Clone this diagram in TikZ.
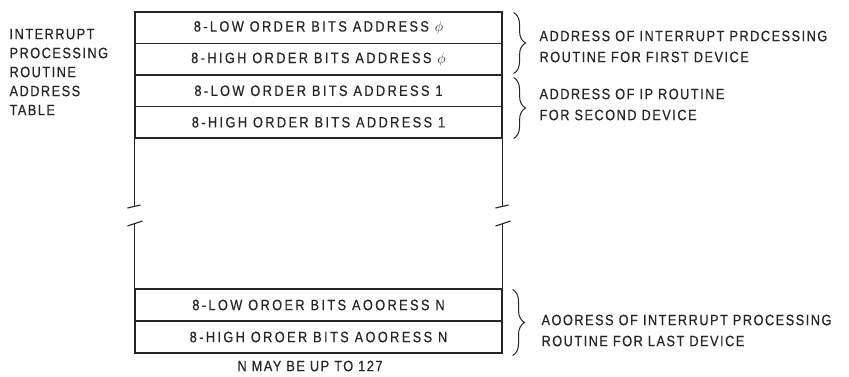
\documentclass[tikz,border=0pt]{standalone}
\usepackage{fontspec}
\setmainfont{Liberation Sans}
\newfontfamily\rowfont[LetterSpace=16,FakeStretch=0.85,FakeBold=0.5]{Liberation Sans}
\newfontfamily\lblfont[LetterSpace=10,FakeStretch=0.85,FakeBold=0.5]{Liberation Sans}
\usetikzlibrary{decorations.pathreplacing,calc}
\definecolor{ink}{HTML}{262626}
\begin{document}
\begin{tikzpicture}[x=1pt,y=-1pt,line width=1.1pt,draw=ink,text=ink,
  cell/.style={draw, minimum width=367pt, minimum height=31.5pt, inner sep=0pt,
    font=\rowfont\fontsize{15}{17}\selectfont},
  lbl/.style={inner sep=0pt, align=left, font=\lblfont\fontsize{15}{21}\selectfont},
  brc/.style={decorate, decoration={brace, amplitude=12pt}, line width=1pt}]
\useasboundingbox (0,0) rectangle (849,376);
% upper rows
\node[cell] (r1) at (318.5,27.75) {8-LOW ORDER BITS ADDRESS $\phi$};
\node[cell] (r2) at (318.5,59.25) {8-HIGH ORDER BITS ADDRESS $\phi$};
\node[cell] (r3) at (318.5,90.75) {8-LOW ORDER BITS ADDRESS 1};
\node[cell] (r4) at (318.5,122.25) {8-HIGH ORDER BITS ADDRESS 1};
% lower rows
\node[cell, minimum height=32pt] (rn1) at (318.5,305) {8-LOW OROER BITS AOORESS N};
\node[cell, minimum height=32pt] (rn2) at (318.5,337) {8-HIGH OROER BITS AOORESS N};
% open sides with break marks
\coordinate (ua) at (0,206);
\coordinate (lb) at (0,224);
\draw (r4.south west) -- (r4.south west |- ua) coordinate (tl);
\draw (r4.south east) -- (r4.south east |- ua) coordinate (tr);
\draw (rn1.north west) -- (rn1.north west |- lb) coordinate (bl);
\draw (rn1.north east) -- (rn1.north east |- lb) coordinate (br);
\draw ($(tl)+(-7,2)$) -- ($(tl)+(6,-1)$);
\draw ($(tr)+(-7,2)$) -- ($(tr)+(6,-1)$);
\draw ($(bl)+(-7,2)$) -- ($(bl)+(8,-3)$);
\draw ($(br)+(-7,2)$) -- ($(br)+(8,-3)$);
% braces
\draw[brc] ($(r1.north east)+(11,1)$) -- ($(r2.south east)+(11,-2)$);
\draw[brc] ($(r3.north east)+(11,3)$) -- ($(r4.south east)+(11,0)$);
\draw[brc] ($(rn1.north east)+(10,1)$) -- ($(rn2.south east)+(10,2)$);
% labels
\node[lbl, anchor=west, font=\lblfont\fontsize{15}{19}\selectfont] (lt) at (9,72)
  {INTERRUPT\\PROCESSING\\ROUTINE\\ADDRESS\\TABLE};
\node[lbl, anchor=west] (t1) at (539,46.5)
  {ADDRESS OF INTERRUPT PRDCESSING\\ROUTINE FOR FIRST DEVICE};
\node[lbl, anchor=west] (t2) at (539,104.5)
  {ADDRESS OF IP ROUTINE\\FOR SECOND DEVICE};
\node[lbl, anchor=west] (t3) at (541,330.5)
  {AOORESS OF INTERRUPT PROCESSING\\ROUTINE FOR LAST DEVICE};
\node[lbl] (nn) at (310,366) {N MAY BE UP TO 127};
\end{tikzpicture}
\end{document}
